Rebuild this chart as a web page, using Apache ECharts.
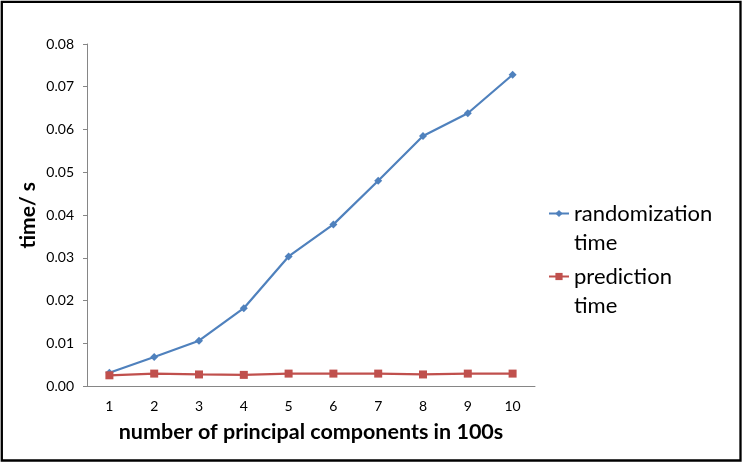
<!DOCTYPE html>
<html><head><meta charset="utf-8">
<script src="https://cdn.jsdelivr.net/npm/echarts@6/dist/echarts.min.js"></script>
<style>html,body{margin:0;padding:0;background:#fff}#c{width:742px;height:462px}</style>
</head><body><div id="c"></div>
<script>
const categories = ['1','2','3','4','5','6','7','8','9','10'];
const randomizationTime = [0.0031, 0.0068, 0.0106, 0.0182, 0.0303, 0.0378, 0.0480, 0.0585, 0.0638, 0.0728];
const predictionTime = [0.0025, 0.0029, 0.0027, 0.0026, 0.0029, 0.0029, 0.0029, 0.0027, 0.0029, 0.0029];
const seriesNames = ['randomization time', 'prediction time'];
const xTitle = 'number of principal components in 100s';
const yTitle = 'time/ s';

const FONT = 'Lato, "Open Sans", sans-serif';
const chart = echarts.init(document.getElementById('c'), null, {renderer: 'canvas'});
chart.setOption({
  animation: false,
  backgroundColor: '#fff',
  grid: {left: 87, right: 207, top: 44, bottom: 76, containLabel: false},
  xAxis: {
    type: 'category', data: categories, boundaryGap: true,
    axisLine: {lineStyle: {color: '#868686', width: 1}},
    axisTick: {show: false},
    axisLabel: {color: '#000', fontFamily: FONT, fontSize: 14, margin: 13},
    name: xTitle, nameLocation: 'middle', nameGap: 35,
    nameTextStyle: {color: '#000', fontFamily: FONT, fontSize: 21.5, fontWeight: 'bold'}
  },
  yAxis: {
    type: 'value', min: 0, max: 0.08, interval: 0.01,
    axisLine: {show: true, lineStyle: {color: '#868686', width: 1}},
    axisTick: {show: true, length: 4, lineStyle: {color: '#868686'}},
    splitLine: {show: false},
    axisLabel: {color: '#000', fontFamily: FONT, fontSize: 14, margin: 13,
      formatter: v => v.toFixed(2)}
  },
  legend: {
    orient: 'vertical', left: 548, top: 170, itemGap: -24, padding: 0,
    itemWidth: 20, itemHeight: 9,
    data: seriesNames,
    formatter: n => '\n' + n.replace(' ', '\n'),
    textStyle: {color: '#000', fontFamily: FONT, fontSize: 22, lineHeight: 29}
  },
  graphic: [
    {type: 'text', left: 18, top: 182, rotation: Math.PI / 2,
      style: {text: yTitle, fill: '#000', font: 'bold 21px ' + FONT}},
    {type: 'rect', shape: {x: 1.8, y: 1.8, width: 738.7, height: 458.7},
      style: {fill: 'none', stroke: '#000', lineWidth: 2.3}, silent: true}
  ],
  series: [
    {name: seriesNames[0], type: 'line', data: randomizationTime,
      symbol: 'diamond', symbolSize: 8,
      lineStyle: {color: '#4F81BD', width: 2.2},
      itemStyle: {color: '#4F81BD'}},
    {name: seriesNames[1], type: 'line', data: predictionTime,
      symbol: 'rect', symbolSize: 8,
      lineStyle: {color: '#C0504D', width: 2.2},
      itemStyle: {color: '#C0504D'}}
  ]
});
</script></body></html>
